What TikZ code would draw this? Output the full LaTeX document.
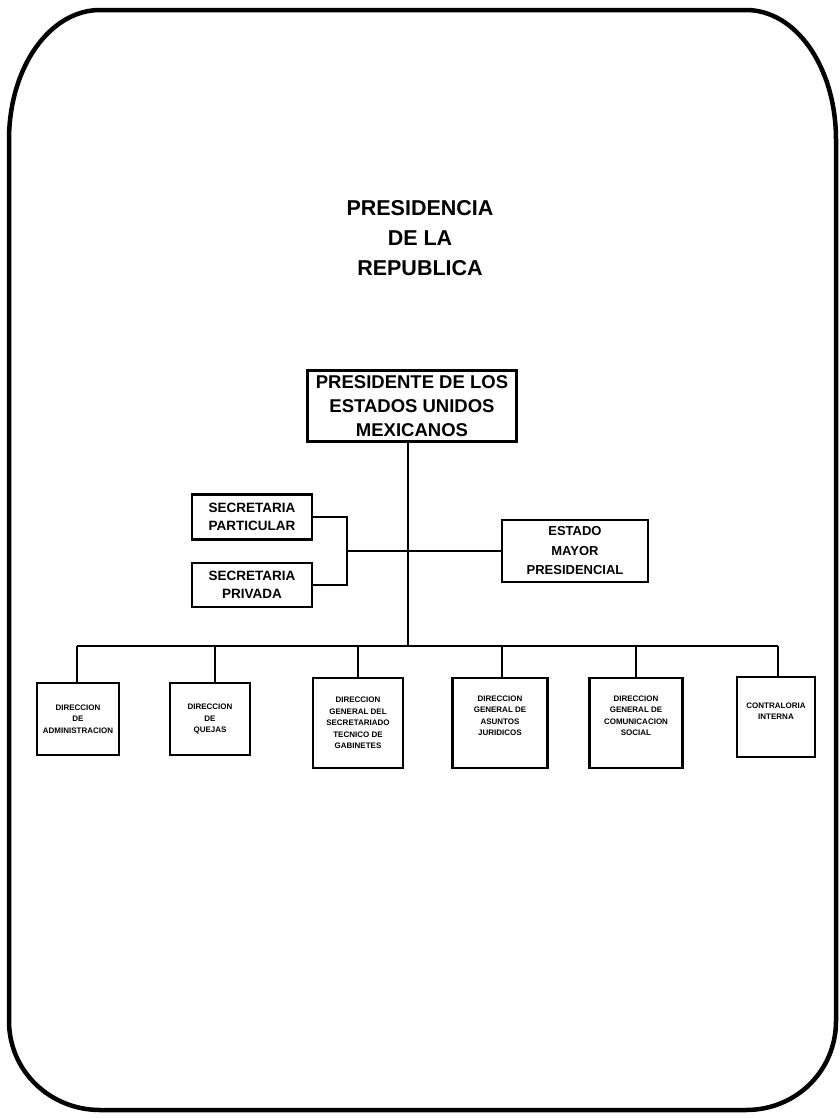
\documentclass[tikz,border=0pt]{standalone}
\usepackage{fontspec}
\setmainfont{Liberation Sans}
\begin{document}
\begin{tikzpicture}[x=1pt,y=-1pt,
  box/.style={draw,line width=2.2pt,align=center,inner sep=1pt,font=\bfseries},
  tiny/.style={box,font=\fontsize{8}{11.5}\selectfont\bfseries},
  mid/.style={box,font=\fontsize{13.5}{18.5}\selectfont\bfseries},
  conn/.style={line width=2pt}]
\useasboundingbox (0,0) rectangle (840,1119);
\draw[line width=4.5pt,line join=round]
  (9,140) .. controls (9,67) and (50,10) .. (100,10)
  -- (746,10) .. controls (796,10) and (836,67) .. (836,140)
  -- (836,1021) .. controls (836,1071) and (796,1110) .. (746,1110)
  -- (100,1110) .. controls (50,1110) and (9,1071) .. (9,1021) -- cycle;

\node[font=\fontsize{21.5}{30}\selectfont\bfseries,align=center] (title) at (420,238)
  {PRESIDENCIA\\DE LA\\REPUBLICA};

\node[box,font=\fontsize{18.5}{24}\selectfont\bfseries,minimum width=209pt,minimum height=71pt] (pres) at (412,406)
  {PRESIDENTE DE LOS\\ESTADOS UNIDOS\\MEXICANOS};

\node[mid,minimum width=120pt,minimum height=45pt] (sp) at (252,517) {SECRETARIA\\PARTICULAR};
\node[mid,minimum width=120pt,minimum height=44pt] (spr) at (252,585) {SECRETARIA\\PRIVADA};
\node[mid,font=\fontsize{13}{19.5}\selectfont\bfseries,minimum width=146pt,minimum height=62pt] (emp) at (575,551) {ESTADO\\MAYOR\\PRESIDENCIAL};

\node[tiny,minimum width=82pt,minimum height=72pt] (b1) at (78,719) {DIRECCION\\DE\\ADMINISTRACION};
\node[tiny,minimum width=80pt,minimum height=72pt] (b2) at (210,719) {DIRECCION\\DE\\QUEJAS};
\node[tiny,minimum width=90pt,minimum height=90pt] (b3) at (358,723) {DIRECCION\\GENERAL DEL\\SECRETARIADO\\TECNICO DE\\GABINETES};
\node[tiny,minimum width=95pt,minimum height=90pt] (b4) at (500,723) {DIRECCION\\GENERAL DE\\ASUNTOS\\JURIDICOS\\[3pt]~};
\node[tiny,minimum width=93pt,minimum height=90pt] (b5) at (636,723) {DIRECCION\\GENERAL DE\\COMUNICACION\\SOCIAL\\[3pt]~};
\node[tiny,minimum width=78pt,minimum height=80pt] (b6) at (776,717) {CONTRALORIA\\INTERNA\\~};

\coordinate (trunk) at (408,646);
\coordinate (br) at (347,551);
\coordinate (busL) at (77,646);
\coordinate (busR) at (778,646);
\coordinate (d2) at (215,646);
\coordinate (d4) at (502,646);

\draw[conn] (pres.south -| trunk) -- (trunk);
\draw[conn] (sp.east) -| (br) |- (spr.east);
\draw[conn] (br) -- (br -| emp.west);
\draw[conn] (busL) -- (busR);
\draw[conn] (b1.north -| busL) -- (busL);
\draw[conn] (b2.north -| d2) -- (d2);
\draw[conn] (b3.north) -- (b3.north |- trunk);
\draw[conn] (b4.north -| d4) -- (d4);
\draw[conn] (b5.north) -- (b5.north |- trunk);
\draw[conn] (b6.north -| busR) -- (busR);
\end{tikzpicture}
\end{document}
